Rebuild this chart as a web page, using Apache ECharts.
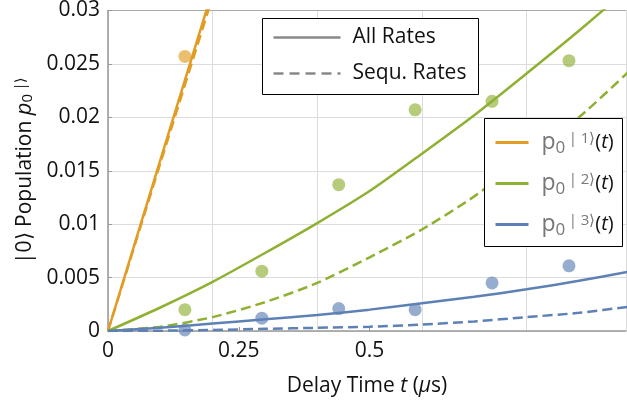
<!DOCTYPE html>
<html>
<head>
<meta charset="utf-8">
<script src="https://cdn.jsdelivr.net/npm/echarts@6/dist/echarts.min.js"></script>
<style>
  html, body { margin: 0; padding: 0; background: #fff; }
  #chart { width: 627px; height: 402px; }
</style>
</head>
<body>
<div id="chart"></div>
<script>
// Measurement times (µs) and measured populations
const measTimes = [0.147, 0.294, 0.441, 0.587, 0.734, 0.881];
const p1Meas = [0.0257];
const p2Meas = [0.0020, 0.0056, 0.0137, 0.0207, 0.0215, 0.0253];
const p3Meas = [0.0001, 0.0012, 0.0021, 0.0020, 0.0045, 0.0061];

// Model curves, sampled every 0.1 µs: all rates (solid) and sequential rates (dashed)
const curveT = [0, 0.1, 0.2, 0.3, 0.4, 0.5, 0.6, 0.7, 0.8, 0.9, 1.0];
const p1AllT = [0, 0.1, 0.2];
const p1AllV = [0, 0.0160, 0.0319];
const p1SeqV = [0, 0.0157, 0.0313];
const p2AllV = [0, 0.0022, 0.0046, 0.0073, 0.0101, 0.0131, 0.0166, 0.0202, 0.0241, 0.0281, 0.0323];
const p2SeqV = [0, 0.0004, 0.0013, 0.0027, 0.0045, 0.0069, 0.0095, 0.0126, 0.0163, 0.0200, 0.0245];
const p3AllV = [0, 0.0003, 0.0007, 0.0011, 0.0015, 0.0020, 0.0026, 0.0032, 0.0039, 0.0047, 0.0056];
const p3SeqV = [0, 0.00003, 0.0001, 0.0002, 0.0003, 0.0004, 0.0006, 0.0009, 0.0013, 0.0017, 0.0023];

// Axis ticks
const xLabelValues = [0, 0.25, 0.5];
const xLabelTexts = ['0', '0.25', '0.5'];
const xTickValues = [0.25, 0.5];
const yTickValues = [0, 0.005, 0.01, 0.015, 0.02, 0.025, 0.03];
const yTickTexts = ['0', '0.005', '0.01', '0.015', '0.02', '0.025', '0.03'];

const C_ORANGE = '#E19C24';
const C_GREEN = '#8FB032';
const C_BLUE = '#5E81B5';
const C_GRAY = '#888888';
const FONT = 'Open Sans';

const zip = (a, b) => a.map((v, i) => [v, b[i]]);

function curve(name, t, v, color, dashed) {
  return {
    name: name, type: 'line', data: zip(t, v), xAxisIndex: 0, yAxisIndex: 0,
    showSymbol: false, symbol: 'none', smooth: 0.25, clip: true,
    lineStyle: { color: color, width: 2.5, type: dashed ? [10, 5] : 'solid' },
    z: 3, silent: true, animation: false
  };
}
function points(name, v, color) {
  return {
    name: name, type: 'scatter', data: zip(measTimes.slice(0, v.length), v),
    symbolSize: 13, itemStyle: { color: color, opacity: 0.65 }, z: 2, clip: true,
    silent: true, animation: false
  };
}

const chart = echarts.init(document.getElementById('chart'), null, { renderer: 'canvas' });

const Z = 100;
const legendText = (n, y) => ({
  type: 'text', x: 57, y: y, z: Z + 1,
  style: {
    text: '{p|p}{s|0} {u|| ' + n + '⟩}{b|(}{i|t}{b|)}',
    rich: {
      p: { fontFamily: FONT, fontSize: 23, fill: '#777', verticalAlign: 'bottom' },
      s: { fontFamily: FONT, fontSize: 17, fill: '#777', verticalAlign: 'bottom', padding: [0, 0, -3, 0] },
      u: { fontFamily: FONT, fontSize: 15, fill: '#777', verticalAlign: 'top' },
      b: { fontFamily: FONT, fontSize: 20, fill: '#111' },
      i: { fontFamily: FONT, fontSize: 20, fill: '#111', fontStyle: 'italic' }
    },
    verticalAlign: 'middle'
  }
});

chart.setOption({
  animation: false,
  backgroundColor: '#fff',
  grid: { left: 108, right: 1, top: 8, bottom: 71, containLabel: false },
  xAxis: [
    {
      // vertical grid lines every 0.2 µs
      type: 'value', min: 0, max: 0.99, interval: 0.2,
      axisLine: { show: true, lineStyle: { color: '#999', width: 1.5 } },
      axisTick: { show: false }, axisLabel: { show: false },
      splitLine: { show: true, lineStyle: { color: '#dcdcdc', width: 1 } }
    },
    {
      // labelled ticks
      type: 'value', min: 0, max: 0.99, position: 'bottom',
      axisLine: { show: false },
      axisTick: { show: true, inside: true, length: 4, customValues: xTickValues, lineStyle: { color: '#999' } },
      axisLabel: {
        show: true, customValues: xLabelValues, margin: 10,
        formatter: (v) => { const i = xLabelValues.findIndex(x => Math.abs(x - v) < 1e-6); return i >= 0 ? xLabelTexts[i] : ''; },
        fontFamily: FONT, fontSize: 21, color: '#111'
      },
      splitLine: { show: false },
      name: '{r|Delay Time }{i|t}{r| (}{i|μ}{r|s)}',
      nameLocation: 'middle', nameGap: 45,
      nameTextStyle: {
        rich: {
          r: { fontFamily: FONT, fontSize: 21, color: '#111' },
          i: { fontFamily: FONT, fontSize: 21, color: '#111', fontStyle: 'italic' }
        }
      }
    },
    {
      // top frame
      type: 'value', min: 0, max: 0.99, position: 'top',
      axisLine: { show: true, lineStyle: { color: '#aaa', width: 1 } },
      axisTick: { show: false }, axisLabel: { show: false }, splitLine: { show: false }
    }
  ],
  yAxis: [
    {
      type: 'value', min: 0, max: 0.03, interval: 0.005,
      axisLine: { show: true, lineStyle: { color: '#999', width: 1.5 } },
      axisTick: { show: true, inside: true, length: 4, lineStyle: { color: '#999' } },
      axisLabel: {
        margin: 8, fontFamily: FONT, fontSize: 21, color: '#111',
        formatter: (v) => { const i = yTickValues.findIndex(x => Math.abs(x - v) < 1e-9); return i >= 0 ? yTickTexts[i] : ''; }
      },
      splitLine: { show: true, lineStyle: { color: '#dcdcdc', width: 1 } },
      name: '{r||0⟩ Population }{i|p}{s|0}{u| |⟩}',
      nameLocation: 'middle', nameGap: 70, nameRotate: 90,
      nameTextStyle: {
        rich: {
          r: { fontFamily: FONT, fontSize: 21, color: '#111' },
          i: { fontFamily: FONT, fontSize: 22, color: '#111', fontStyle: 'italic' },
          s: { fontFamily: FONT, fontSize: 15, color: '#111', verticalAlign: 'bottom' },
          u: { fontFamily: FONT, fontSize: 14, color: '#111', verticalAlign: 'top' }
        }
      }
    }
  ],
  series: [
    points('p1 data', p1Meas, C_ORANGE),
    points('p2 data', p2Meas, C_GREEN),
    points('p3 data', p3Meas, C_BLUE),
    curve('p1 all', p1AllT, p1AllV, C_ORANGE, false),
    curve('p1 seq', p1AllT, p1SeqV, C_ORANGE, true),
    curve('p2 all', curveT, p2AllV, C_GREEN, false),
    curve('p2 seq', curveT, p2SeqV, C_GREEN, true),
    curve('p3 all', curveT, p3AllV, C_BLUE, false),
    curve('p3 seq', curveT, p3SeqV, C_BLUE, true)
  ],
  graphic: [
    {
      type: 'group', left: 262, top: 18,
      children: [
        { type: 'rect', z: Z, shape: { x: 0, y: 0, width: 216, height: 76 }, style: { fill: '#fff', stroke: '#000', lineWidth: 1 } },
        { type: 'line', z: Z + 1, shape: { x1: 11, y1: 19, x2: 78, y2: 19 }, style: { stroke: C_GRAY, lineWidth: 2.5 } },
        { type: 'line', z: Z + 1, shape: { x1: 11, y1: 55, x2: 78, y2: 55 }, style: { stroke: C_GRAY, lineWidth: 2.5, lineDash: [10, 6] } },
        { type: 'text', z: Z + 1, x: 90, y: 19, style: { text: 'All Rates', fontFamily: FONT, fontSize: 21, fill: '#111', verticalAlign: 'middle' } },
        { type: 'text', z: Z + 1, x: 90, y: 55, style: { text: 'Sequ. Rates', fontFamily: FONT, fontSize: 21, fill: '#111', verticalAlign: 'middle' } }
      ]
    },
    {
      type: 'group', left: 484, top: 118,
      children: [
        { type: 'rect', z: Z, shape: { x: 0, y: 0, width: 138, height: 128 }, style: { fill: '#fff', stroke: '#000', lineWidth: 1 } },
        { type: 'line', z: Z + 1, shape: { x1: 11, y1: 24, x2: 44, y2: 24 }, style: { stroke: C_ORANGE, lineWidth: 3 } },
        { type: 'line', z: Z + 1, shape: { x1: 11, y1: 65, x2: 44, y2: 65 }, style: { stroke: C_GREEN, lineWidth: 3 } },
        { type: 'line', z: Z + 1, shape: { x1: 11, y1: 106, x2: 44, y2: 106 }, style: { stroke: C_BLUE, lineWidth: 3 } },
        legendText(1, 24),
        legendText(2, 65),
        legendText(3, 106)
      ]
    }
  ]
});
</script>
</body>
</html>
